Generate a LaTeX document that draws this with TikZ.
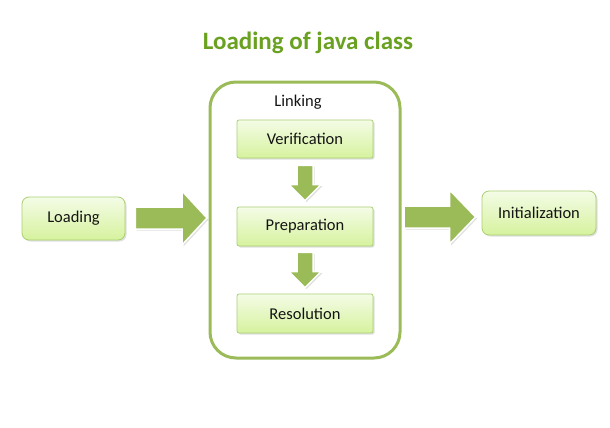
\documentclass[tikz,border=0pt]{standalone}
\usepackage{fontspec}
\setmainfont{Carlito}
\usetikzlibrary{calc,shadows}
\definecolor{gborder}{HTML}{A9CF72}
\definecolor{gtop}{HTML}{F4FCE6}
\definecolor{gbot}{HTML}{D6F29E}
\definecolor{garrow}{HTML}{9BBB59}
\definecolor{gtitle}{HTML}{6AA121}
\definecolor{txt}{HTML}{141414}
\tikzset{
  stepbox/.style={draw=gborder, line width=0.8pt, top color=gtop, bottom color=gbot,
    rounded corners=2pt, text=txt, font=\fontsize{16.5}{18}\selectfont,
    drop shadow={shadow xshift=1.5pt, shadow yshift=-1.5pt, opacity=0.25}},
  outerbox/.style={stepbox, rounded corners=7pt},
  blockarrow/.style={fill=garrow, draw=white, line width=1.5pt,
    drop shadow={shadow xshift=1.5pt, shadow yshift=-1.5pt, opacity=0.25}},
}
\begin{document}
\begin{tikzpicture}[x=1pt,y=-1pt]
\useasboundingbox (0,0) rectangle (610,428);
\node[font=\fontsize{25}{29}\selectfont\bfseries, text=gtitle] (title) at (308,43) {Loading of java class};
% Linking container
\draw[garrow, line width=3pt, rounded corners=26pt] (210,82) rectangle (400,358);
\node[font=\fontsize{16.5}{18}\selectfont, text=txt] (linking) at (298,102) {Linking};
% boxes
\node[outerbox, minimum width=103pt, minimum height=43pt] (load) at (73.5,218.5) {Loading};
\node[outerbox, minimum width=114pt, minimum height=44pt] (init) at (539,213) {Initialization};
\node[stepbox, minimum width=136pt, minimum height=38pt] (verif) at (305,139) {Verification};
\node[stepbox, minimum width=136pt, minimum height=39pt] (prep) at (305,226.5) {Preparation};
\node[stepbox, minimum width=136pt, minimum height=39pt] (resol) at (305,313.5) {Resolution};
% arrow end points
\coordinate (a1s) at ($(load.east)+(10,-0.5)$);
\coordinate (a1e) at (207,218);
\coordinate (a2s) at (404,217);
\coordinate (a2e) at ($(init.west)+(-6,4)$);
\coordinate (d1s) at ($(verif.south)+(0,7)$);
\coordinate (d1e) at ($(prep.north)+(0,-6)$);
\coordinate (d2s) at ($(prep.south)+(0,6)$);
\coordinate (d2e) at ($(resol.north)+(0,-6)$);
% horizontal block arrows
\draw[blockarrow] ($(a1s)+(0,-11)$) -- ($(a1e)+(-25,-11)$) -- ($(a1e)+(-25,-27)$) -- (a1e)
  -- ($(a1e)+(-25,27)$) -- ($(a1e)+(-25,11)$) -- ($(a1s)+(0,11)$) -- cycle;
\draw[blockarrow] ($(a2s)+(0,-11)$) -- ($(a2e)+(-26,-11)$) -- ($(a2e)+(-26,-27)$) -- (a2e)
  -- ($(a2e)+(-26,27)$) -- ($(a2e)+(-26,11)$) -- ($(a2s)+(0,11)$) -- cycle;
% vertical block arrows
\draw[blockarrow] ($(d1s)+(-8,0)$) -- ($(d1e)+(-8,-16)$) -- ($(d1e)+(-16,-16)$) -- (d1e)
  -- ($(d1e)+(16,-16)$) -- ($(d1e)+(8,-16)$) -- ($(d1s)+(8,0)$) -- cycle;
\draw[blockarrow] ($(d2s)+(-8,0)$) -- ($(d2e)+(-8,-16)$) -- ($(d2e)+(-16,-16)$) -- (d2e)
  -- ($(d2e)+(16,-16)$) -- ($(d2e)+(8,-16)$) -- ($(d2s)+(8,0)$) -- cycle;
\end{tikzpicture}
\end{document}
